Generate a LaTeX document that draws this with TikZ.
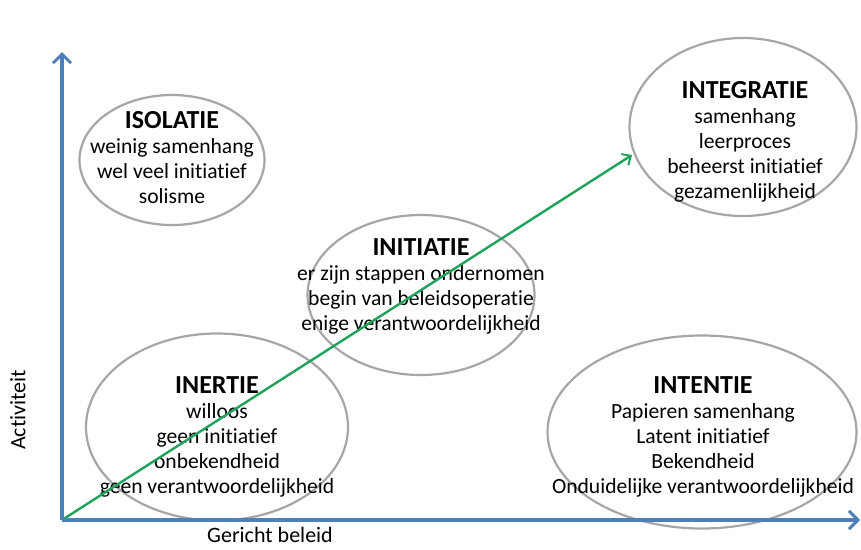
\documentclass[tikz,border=0pt]{standalone}
\usepackage{fontspec}
\setmainfont[Ligatures=NoCommon]{Carlito}
\usetikzlibrary{shapes.geometric,arrows.meta}
\definecolor{axisblue}{HTML}{4F7FB8}
\definecolor{trendgreen}{HTML}{1FA25A}
\definecolor{zonegray}{HTML}{A6A6A6}
\newcommand{\zonehead}[1]{{\fontsize{26}{31}\selectfont\bfseries #1}}
\begin{document}
\begin{tikzpicture}[x=1pt,y=-1pt,
  zone/.style={draw=zonegray,line width=2.2pt,ellipse,inner sep=0pt},
  zonetext/.style={align=center,inner sep=0pt,font=\fontsize{21.6}{25}\selectfont},
  axis/.style={draw=axisblue,line width=3.5pt,-{Straight Barb[length=9pt,width=18pt,line width=3pt]}},
  trend/.style={draw=trendgreen,line width=2.4pt,-{Straight Barb[length=7pt,width=13pt,line width=2pt]}},
  axislabel/.style={font=\fontsize{22}{26}\selectfont,inner sep=0pt}]
\useasboundingbox (0,0) rectangle (861,549);
% zones
\node[zone,minimum width=185pt,minimum height=130pt] (isolatie) at (172,160) {};
\node[zone,minimum width=227pt,minimum height=178pt] (integratie) at (743,127) {};
\node[zone,minimum width=227pt,minimum height=160pt] (initiatie) at (421,295) {};
\node[zone,minimum width=262pt,minimum height=187pt] (inertie) at (217,427) {};
\node[zone,minimum width=309pt,minimum height=193pt] (intentie) at (702,432) {};
% texts
\node[zonetext] (isolatieT) at (172,158) {\zonehead{ISOLATIE}\\weinig samenhang\\wel veel initiatief\\solisme};
\node[zonetext] (integratieT) at (745,142) {\zonehead{INTEGRATIE}\\samenhang\\leerproces\\beheerst initiatief\\gezamenlijkheid};
\node[zonetext] (initiatieT) at (421,286) {\zonehead{INITIATIE}\\er zijn stappen ondernomen\\begin van beleidsoperatie\\enige verantwoordelijkheid};
\node[zonetext] (inertieT) at (217,437) {\zonehead{INERTIE}\\willoos\\geen initiatief\\onbekendheid\\geen verantwoordelijkheid};
\node[zonetext] (intentieT) at (703,437) {\zonehead{INTENTIE}\\Papieren samenhang\\Latent initiatief\\Bekendheid\\Onduidelijke verantwoordelijkheid};
% axes
\coordinate (origin) at (62,520);
\coordinate (ytop) at (62,52);
\coordinate (xend) at (860,520);
\coordinate (trendend) at (632,155);
\draw[trend] (origin) -- (trendend);
\draw[axis] (origin) -- (ytop);
\draw[axis] (origin) -- (xend);
\node[axislabel,rotate=90] (activiteit) at (18,410) {Activiteit};
\node[axislabel] (gericht) at (270,535) {Gericht beleid};
\end{tikzpicture}
\end{document}
